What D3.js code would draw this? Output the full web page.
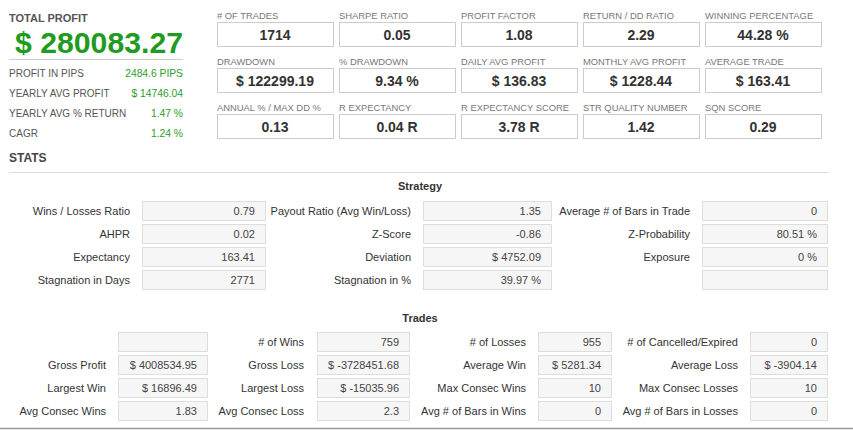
<!DOCTYPE html>
<html>
<head>
<meta charset="utf-8">
<script src="https://cdn.jsdelivr.net/npm/d3@7"></script>
<style>
  html, body { margin: 0; padding: 0; background: #fff; }
  svg { display: block; font-family: "Liberation Sans", Arial, sans-serif; }
</style>
</head>
<body>
<svg id="chart" width="853" height="430"></svg>
<script>
// headline figures
const totalProfit = '$ 280083.27';
const summaryLabels = ['PROFIT IN PIPS', 'YEARLY AVG PROFIT', 'YEARLY AVG % RETURN', 'CAGR'];
const summaryValues = ['2484.6 PIPS', '$ 14746.04', '1.47 %', '1.24 %'];

// KPI tiles, 3 rows x 5 columns
const kpiLabels = [
  '# OF TRADES', 'SHARPE RATIO', 'PROFIT FACTOR', 'RETURN / DD RATIO', 'WINNING PERCENTAGE',
  'DRAWDOWN', '% DRAWDOWN', 'DAILY AVG PROFIT', 'MONTHLY AVG PROFIT', 'AVERAGE TRADE',
  'ANNUAL % / MAX DD %', 'R EXPECTANCY', 'R EXPECTANCY SCORE', 'STR QUALITY NUMBER', 'SQN SCORE'
];
const kpiValues = [
  '1714', '0.05', '1.08', '2.29', '44.28 %',
  '$ 122299.19', '9.34 %', '$ 136.83', '$ 1228.44', '$ 163.41',
  '0.13', '0.04 R', '3.78 R', '1.42', '0.29'
];

// Strategy table, 4 rows x 3 columns
const strategyLabels = [
  'Wins / Losses Ratio', 'Payout Ratio (Avg Win/Loss)', 'Average # of Bars in Trade',
  'AHPR', 'Z-Score', 'Z-Probability',
  'Expectancy', 'Deviation', 'Exposure',
  'Stagnation in Days', 'Stagnation in %', ''
];
const strategyValues = [
  '0.79', '1.35', '0',
  '0.02', '-0.86', '80.51 %',
  '163.41', '$ 4752.09', '0 %',
  '2771', '39.97 %', ''
];

// Trades table, 4 rows x 4 columns
const tradesLabels = [
  '', '# of Wins', '# of Losses', '# of Cancelled/Expired',
  'Gross Profit', 'Gross Loss', 'Average Win', 'Average Loss',
  'Largest Win', 'Largest Loss', 'Max Consec Wins', 'Max Consec Losses',
  'Avg Consec Wins', 'Avg Consec Loss', 'Avg # of Bars in Wins', 'Avg # of Bars in Losses'
];
const tradesValues = [
  '', '759', '955', '0',
  '$ 4008534.95', '$ -3728451.68', '$ 5281.34', '$ -3904.14',
  '$ 16896.49', '$ -15035.96', '10', '10',
  '1.83', '2.3', '0', '0'
];

const svg = d3.select('#chart');
const green = '#1f9b1f';

// ---- headline block
svg.append('text').attr('x', 9).attr('y', 22)
  .attr('font-size', 11).attr('font-weight', 'bold').attr('fill', '#555')
  .text('TOTAL PROFIT');
svg.append('text').attr('x', 15).attr('y', 53)
  .attr('font-size', 30).attr('font-weight', 'bold').attr('fill', green)
  .attr('textLength', 168).attr('lengthAdjust', 'spacingAndGlyphs')
  .text(totalProfit);
svg.append('line').attr('x1', 9).attr('x2', 183).attr('y1', 59.5).attr('y2', 59.5)
  .attr('stroke', '#ccc');

const ySum = d3.scaleLinear().domain([0, 1]).range([77, 97]);
const sum = svg.append('g').selectAll('g').data(summaryLabels).join('g')
  .attr('transform', (d, i) => `translate(0,${ySum(i)})`);
sum.append('text').attr('x', 9).attr('font-size', 10).attr('fill', '#555').text(d => d);
sum.append('text').attr('x', 183).attr('text-anchor', 'end').attr('font-size', 10.3)
  .attr('fill', '#2a9d2a').text((d, i) => summaryValues[i]);

svg.append('text').attr('x', 9).attr('y', 162)
  .attr('font-size', 12).attr('font-weight', 'bold').attr('fill', '#444')
  .text('STATS');

// ---- KPI tiles
const kx = d3.scaleLinear().domain([0, 1]).range([217, 339]);
const ky = d3.scaleLinear().domain([0, 1]).range([22, 68]);
const tileW = 116, tileH = 24;
const tiles = svg.append('g').selectAll('g').data(kpiLabels).join('g')
  .attr('transform', (d, i) => `translate(${kx(i % 5)},${ky(Math.floor(i / 5))})`);
tiles.append('text').attr('x', 0).attr('y', -3)
  .attr('font-size', 9.4).attr('fill', '#777').text(d => d);
tiles.append('rect').attr('x', 0.5).attr('y', 0.5).attr('width', tileW).attr('height', tileH)
  .attr('fill', '#fff').attr('stroke', '#ccc');
tiles.append('text').attr('x', tileW / 2).attr('y', 18).attr('text-anchor', 'middle')
  .attr('font-size', 14).attr('font-weight', 'bold').attr('fill', '#333')
  .text((d, i) => kpiValues[i]);

svg.append('line').attr('x1', 9).attr('x2', 829).attr('y1', 172.5).attr('y2', 172.5)
  .attr('stroke', '#ddd');

// ---- generic label/value table
function drawTable(title, titleY, labels, values, cols, top) {
  svg.append('text').attr('x', 420).attr('y', titleY).attr('text-anchor', 'middle')
    .attr('font-size', 11).attr('font-weight', 'bold').attr('fill', '#333').text(title);
  const n = cols.length;
  const ry = d3.scaleLinear().domain([0, 1]).range([top, top + 23]);
  const cells = svg.append('g').selectAll('g').data(labels).join('g')
    .attr('transform', (d, i) => `translate(0,${ry(Math.floor(i / n))})`);
  cells.append('text')
    .attr('x', (d, i) => cols[i % n].label)
    .attr('y', 14).attr('text-anchor', 'end')
    .attr('font-size', 11).attr('fill', '#333').text(d => d);
  cells.append('rect')
    .attr('x', (d, i) => cols[i % n].box + 0.5).attr('y', 0.5)
    .attr('width', (d, i) => cols[i % n].w).attr('height', 19)
    .attr('fill', '#f6f6f6').attr('stroke', '#ddd');
  cells.append('text')
    .attr('x', (d, i) => cols[i % n].box + cols[i % n].w - 10)
    .attr('y', 14).attr('text-anchor', 'end')
    .attr('font-size', 11).attr('fill', '#444').text((d, i) => values[i]);
}

drawTable('Strategy', 190, strategyLabels, strategyValues, [
  { label: 130, box: 142, w: 123 },
  { label: 411, box: 423, w: 128 },
  { label: 690, box: 702, w: 125 }
], 201);

drawTable('Trades', 322, tradesLabels, tradesValues, [
  { label: 106, box: 118, w: 89 },
  { label: 304, box: 317, w: 92 },
  { label: 526, box: 538, w: 73 },
  { label: 738, box: 750, w: 77 }
], 332);

svg.append('line').attr('x1', 0).attr('x2', 853).attr('y1', 428.5).attr('y2', 428.5)
  .attr('stroke', '#999').attr('stroke-width', 1.5);
</script>
</body>
</html>
